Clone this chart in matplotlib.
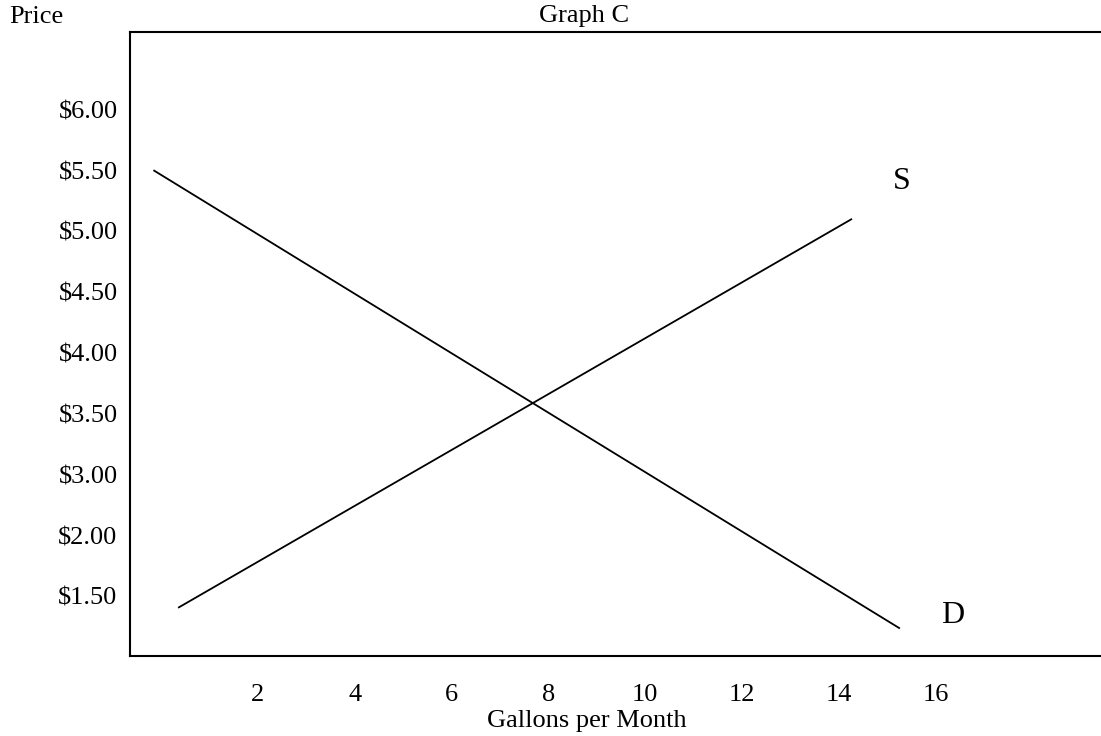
import matplotlib.pyplot as plt

plt.rcParams['font.family'] = ['Liberation Serif', 'DejaVu Serif']

# price ticks (label $2.50 is skipped in the original, labels are just evenly spaced)
y_ticks = [6.0, 5.5, 5.0, 4.5, 4.0, 3.5, 3.0, 2.5, 2.0]
y_labels = ['$6.00', '$5.50', '$5.00', '$4.50', '$4.00', '$3.50', '$3.00', '$2.00', '$1.50']
x_ticks = [2, 4, 6, 8, 10, 12, 14, 16]

# demand and supply lines (quantity, price)
demand_x = [-0.14, 15.25]
demand_y = [5.5, 1.74]
supply_x = [0.37, 14.26]
supply_y = [1.91, 5.10]

W, H = 1101, 736
fig = plt.figure(figsize=(W / 100, H / 100), dpi=100)
ax = fig.add_axes([130 / W, (H - 656) / H, (W - 130) / W, (656 - 32) / H])

ax.plot(demand_x, demand_y, color='black', lw=1.3)
ax.plot(supply_x, supply_y, color='black', lw=1.3)

ax.set_xlim(-0.64, 19.42)
ax.set_ylim(1.51, 6.64)

ax.set_xticks(x_ticks)
ax.set_xticklabels([str(v) for v in x_ticks])
ax.set_yticks(y_ticks)
ax.set_yticklabels(y_labels)
ax.tick_params(axis='x', length=0, pad=20, labelsize=19)
ax.tick_params(axis='y', length=0, pad=9, labelsize=19)

ax.spines['right'].set_visible(False)
for s in ['left', 'top', 'bottom']:
    ax.spines[s].set_linewidth(1.5)

ax.text(15.31, 5.41, 'S', fontsize=23, ha='center', va='center')
ax.text(16.36, 1.84, 'D', fontsize=23, ha='center', va='center')

fig.text(36 / W, 1 - 17 / H, 'Price', fontsize=19, ha='center', va='center')
fig.text(584 / W, 1 - 16 / H, 'Graph C', fontsize=19, ha='center', va='center')
fig.text(587 / W, 1 - 721 / H, 'Gallons per Month', fontsize=19, ha='center', va='center')

fig.savefig('out.png', dpi=100)
